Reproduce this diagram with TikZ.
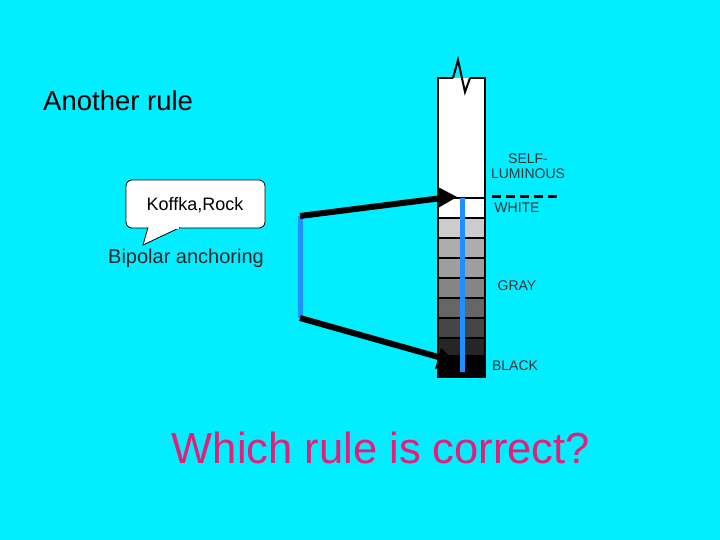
\documentclass[tikz,border=0pt]{standalone}
\usepackage{fontspec}
\setmainfont{Liberation Sans}
\begin{document}
\begin{tikzpicture}[x=1pt,y=-1pt,
  lbl/.style={font=\fontsize{14}{15}\selectfont, text=black!80, align=center, inner sep=0},
  cell/.style={draw=black, line width=1.5pt},
  arr/.style={line width=6pt},
  blue/.style={draw={rgb,255:red,30;green,144;blue,255}, line width=5pt}]
\useasboundingbox[fill={rgb,255:red,0;green,238;blue,255}] (0,0) rectangle (720,540);
\node[anchor=west, font=\fontsize{27.5}{29}\selectfont, inner sep=0] (t1) at (43,101) {Another rule};
\node[font=\fontsize{43.5}{46}\selectfont, text={rgb,255:red,230;green,30;blue,120}, inner sep=0] (t2) at (381,448) {Which rule is correct?};
% column
\fill[white] (438,78) rectangle (485,198);
\draw[line width=1.5pt] (453,78) -- (438,78) -- (438,198) -- (485,198) -- (485,78) -- (470,78);
\draw[line width=2pt] (453,78) -- (458,60) -- (465,92) -- (470,78);
\foreach \a/\b/\c in {198/218/100,218/238/80,238/258/68,258/278/62,278/298/52,298/318/40,318/338/27,338/356/15,356/377/0}
  \filldraw[cell, fill=white!\c!black] (438,\a) rectangle (485,\b);
\coordinate (lt) at (300,216); \coordinate (lb) at (300,318);
\draw[blue] (lt) -- (lb);
\draw[blue] (462,198) -- (462,372);
\draw[arr] (lt) -- (442,198);
\fill (457,197) -- (438,187) -- (438,208) -- cycle;
\draw[arr] (lb) -- (442,358);
\fill (457,363) -- (441,348) -- (435,369) -- cycle;
\draw[line width=3pt, dash pattern=on 9pt off 5pt] (492,197) -- (558,197);
\node[lbl] (sl) at (528,166) {SELF-\\LUMINOUS};
\node[lbl] (w) at (517,208) {WHITE};
\node[lbl] (g) at (517,286) {GRAY};
\node[lbl] (b) at (515,366) {BLACK};
% callout
\draw[fill=white, line width=0.8pt, rounded corners=6pt] (148,228) -- (126,228) -- (126,180) -- (265,180) -- (265,228) -- (180,228);
\draw[fill=white, line width=0.8pt] (148,227.5) -- (143,245) -- (180,227.5);
\fill[white] (149,226) rectangle (179,229);
\node[font=\fontsize{18}{20}\selectfont, inner sep=0] (k) at (195,205) {Koffka,Rock};
\node[font=\fontsize{20}{22}\selectfont, inner sep=0, text=black!85] (bp) at (186,258) {Bipolar anchoring};
\end{tikzpicture}
\end{document}
